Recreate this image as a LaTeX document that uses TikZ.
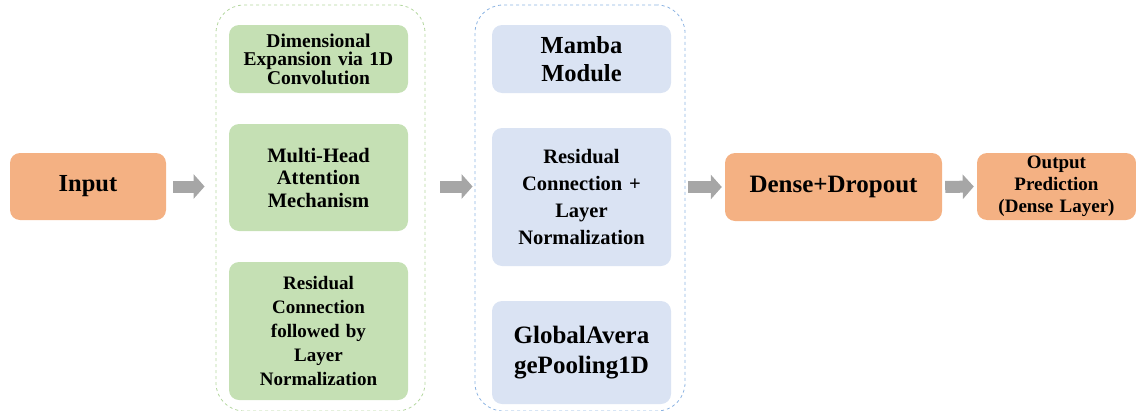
\documentclass[tikz,border=0pt]{standalone}
\usepackage{fontspec}
\setmainfont{Liberation Serif}
\usetikzlibrary{arrows.meta,positioning,calc}
\definecolor{orbox}{HTML}{F4B183}
\definecolor{grbox}{HTML}{C5E0B4}
\definecolor{blbox}{HTML}{DAE3F3}
\definecolor{grline}{HTML}{B4D7A0}
\definecolor{blline}{HTML}{8DB4E2}
\definecolor{arrgray}{HTML}{A6A6A6}
\newcommand{\fs}[2]{\fontsize{#1}{#2}\selectfont}

\begin{document}
\begin{tikzpicture}[x=1pt,y=-1pt,
  box/.style={rounded corners=10pt,align=center,font=\bfseries,inner sep=2pt},
  obox/.style={box,fill=orbox,minimum height=67pt},
  gbox/.style={box,fill=grbox,minimum width=177pt,text width=175pt},
  bbox/.style={box,fill=blbox,minimum width=177pt,text width=175pt},
  grp/.style={draw,dashed,rounded corners=28pt,minimum height=406pt,line width=0.8pt},
  arr/.style={-{Triangle[length=11pt,width=24pt]},line width=12pt,draw=arrgray}]
\useasboundingbox (0,0) rectangle (1136,410);
% groups
\node[grp,draw=grline,minimum width=209pt] (grp1) at (320.5,208) {};
\node[grp,draw=blline,minimum width=210pt] (grp2) at (580,208) {};
% outer boxes
\node[obox,minimum width=156pt,font=\bfseries\fs{24.5}{26}] (in) at (88,186.5) {Input};
\node[obox,minimum width=217pt,minimum height=68pt,font=\bfseries\fs{25}{26}] (dense) at (833.5,187) {Dense+Dropout};
\node[obox,minimum width=157pt,text width=155pt,font=\bfseries\fs{19}{22}] (out) at (1056.5,186.5) {Output\\Prediction\\(Dense Layer)};
% attention block
\node[gbox,minimum height=68pt,font=\bfseries\fs{19.5}{18.5}] (conv) at (318.5,59) {Dimensional\\Expansion via 1D\\Convolution};
\node[gbox,minimum height=107pt,font=\bfseries\fs{20.5}{22.5}] (mha) at (318.5,177.5) {Multi-Head\\Attention\\Mechanism};
\node[gbox,minimum height=138pt,font=\bfseries\fs{19}{24}] (res1) at (318.5,331) {Residual\\Connection\\followed by\\Layer\\Normalization};
% mamba block
\node[bbox,minimum height=68pt,font=\bfseries\fs{24.5}{28}] (mamba) at (581.5,59) {Mamba\\Module};
\node[bbox,minimum height=138pt,font=\bfseries\fs{20.5}{27}] (res2) at (581.5,197) {Residual\\Connection +\\Layer\\Normalization};
\node[bbox,minimum height=103pt,font=\bfseries\fs{25}{30}] (pool) at (581.5,352.5) {GlobalAvera\\gePooling1D};
% arrows
\draw[arr,shorten <=7pt,shorten >=11pt] (in.east) -- (in.east -| grp1.west);
\draw[arr,shorten <=15pt,shorten >=2pt] (in.east -| grp1.east) -- (in.east -| grp2.west);
\draw[arr,shorten <=3pt,shorten >=3pt] (dense.west -| grp2.east) -- (dense.west);
\draw[arr,shorten <=3pt,shorten >=3pt] (dense.east) -- (out.west);
\end{tikzpicture}
\end{document}
